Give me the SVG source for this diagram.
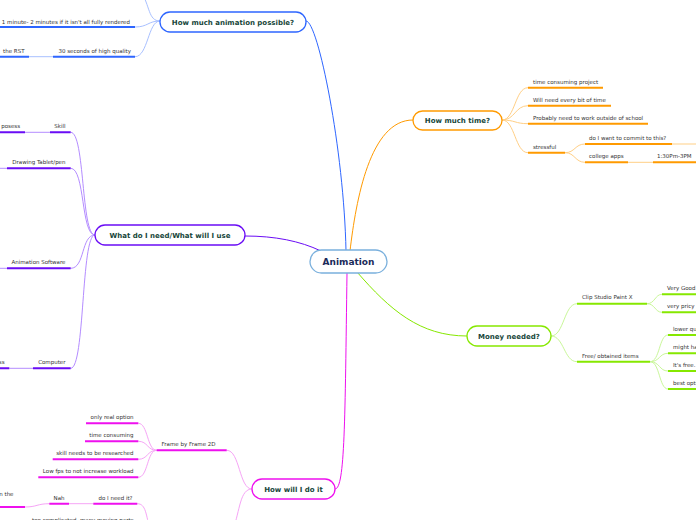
<svg xmlns="http://www.w3.org/2000/svg" width="696" height="520" viewBox="0 0 696 520">
<style>
.t{font-family:"DejaVu Sans",Verdana,sans-serif;font-size:5.5px;fill:#333}
.e{text-anchor:end}
.n{font-family:"DejaVu Sans",Verdana,sans-serif;font-size:7px;font-weight:bold;fill:#17463a;text-anchor:middle}
.c{fill:none;stroke-width:1}
.u{fill:none;stroke-width:2}
.bl{stroke:#2e66ff}.bll{stroke:#a8c0ff}
.pu{stroke:#6a0cf5}.pul{stroke:#b48cff}
.or{stroke:#ff9a00}.orl{stroke:#ffcf85}
.gr{stroke:#86e800}.grl{stroke:#c9f799}
.mg{stroke:#ee10ee}.mgl{stroke:#f6a4f6}
.box{fill:#fff;stroke-width:1.3}
</style>
<g id="connectors">
<path class="c bl" stroke-width="1.2" d="M306,21 C318,21 344,150 346,251"/>
<path class="c or" stroke-width="1.2" d="M350,251 C356,200 370,120 413,120"/>
<path class="c pu" stroke-width="1.2" d="M245,236 C275,236 300,241 321,251"/>
<path class="c gr" stroke-width="1.2" d="M357,272 C390,310 420,336 467,336"/>
<path class="c mg" stroke-width="1.2" d="M347,273 C345,420 345,489 335,489"/>
<!-- blue -->
<path class="c bll" d="M135,27 C148,27 148,21 160,21"/>
<path class="c bll" d="M135,56.7 C148,56.7 148,21 160,21"/>
<path class="c bll" d="M160,21 C148,21 150,5 141,-8"/>
<path class="c bll" d="M29,56.7 L53,56.7"/>
<!-- purple -->
<path class="c pul" d="M70.7,132.3 C85,132.3 81,235 95,235"/>
<path class="c pul" d="M70.7,168.3 C85,168.3 81,235 95,235"/>
<path class="c pul" d="M70.7,268.3 C85,268.3 81,235 95,235"/>
<path class="c pul" d="M70.7,368.3 C85,368.3 81,235 95,235"/>
<path class="c pul" d="M25,132.3 L50,132.3 M0,168.3 L7,168.3 M0,268.3 L7,268.3 M9.3,368.3 L33,368.3"/>
<!-- orange -->
<path class="c orl" d="M502,120 C515,120 515,87.7 528,87.7"/>
<path class="c orl" d="M502,120 C515,120 515,105.7 528,105.7"/>
<path class="c orl" d="M502,120 C515,120 515,123.7 528,123.7"/>
<path class="c orl" d="M502,120 C515,120 515,152.7 528,152.7"/>
<path class="c orl" d="M565,152.7 C575,152.7 575,144 585,144"/>
<path class="c orl" d="M565,152.7 C575,152.7 575,162.3 585,162.3"/>
<path class="c orl" d="M672,144 L696,144 M628,162.3 L653,162.3"/>
<!-- green -->
<path class="c grl" d="M551,336 C564,336 564,303.7 577,303.7"/>
<path class="c grl" d="M551,336 C564,336 564,361.7 577,361.7"/>
<path class="c grl" d="M647,303.7 C655,303.7 655,294.3 662,294.3"/>
<path class="c grl" d="M647,303.7 C655,303.7 655,312.3 662,312.3"/>
<path class="c grl" d="M650,361.7 C660,361.7 659,335 668,335"/>
<path class="c grl" d="M650,361.7 C660,361.7 659,353.3 668,353.3"/>
<path class="c grl" d="M650,361.7 C660,361.7 659,371 668,371"/>
<path class="c grl" d="M650,361.7 C660,361.7 659,389 668,389"/>
<!-- magenta -->
<path class="c mgl" d="M226.7,450.3 C240,450.3 239,489 252,489"/>
<path class="c mgl" d="M252,489 C240,489 240,510 233,530"/>
<path class="c mgl" d="M138.3,423.3 C148,423.3 147,450.3 156.7,450.3"/>
<path class="c mgl" d="M138.3,441.3 C148,441.3 147,450.3 156.7,450.3"/>
<path class="c mgl" d="M138.3,459.3 C148,459.3 147,450.3 156.7,450.3"/>
<path class="c mgl" d="M138.3,477.3 C148,477.3 147,450.3 156.7,450.3"/>
<path class="c mgl" d="M137.3,503.7 C146,503.7 146,515 150,530"/>
<path class="c mgl" d="M69,503.7 L93.3,503.7"/>
<path class="c mgl" d="M25,507 C37,507 37,503.7 49.3,503.7"/>
</g>
<g id="n-animation">
<rect class="box" x="310" y="250" width="77" height="23" rx="11.5" stroke="#7ab0dd" stroke-width="1.5"/>
<text class="n" x="348.5" y="265" font-size="9" style="font-size:9px;fill:#1a2a5a">Animation</text>
</g>
<g id="n-possible">
<rect class="box bl" x="160" y="12" width="146" height="20" rx="10"/>
<text class="n" x="233" y="24.5">How much animation possible?</text>
<path class="u bl" d="M0,27 L135,27 M53,56.7 L135,56.7 M0,56.7 L29,56.7"/>
<text class="t e" x="130" y="23.5">1 minute- 2 minutes if it isn't all fully rendered</text>
<text class="t e" x="131" y="53.3">30 seconds of high quality</text>
<text class="t e" x="24.5" y="53.3">the RST</text>
</g>
<g id="n-need">
<rect class="box pu" x="95" y="225" width="150" height="20" rx="10"/>
<text class="n" x="170" y="238">What do I need/What will I use</text>
<path class="u pu" d="M50,132.3 L70.7,132.3 M0,132.3 L25,132.3 M7,168.3 L70.7,168.3 M7,268.3 L70.7,268.3 M33,368.3 L70.7,368.3 M0,368.3 L9.3,368.3"/>
<text class="t e" x="65.5" y="128">Skill</text>
<text class="t e" x="20" y="128">posess</text>
<text class="t e" x="65.5" y="164">Drawing Tablet/pen</text>
<text class="t e" x="65.5" y="264">Animation Software</text>
<text class="t e" x="65.5" y="364">Computer</text>
<text class="t e" x="4.5" y="364">ss</text>
</g>
<g id="n-time">
<rect class="box or" x="413" y="111" width="89" height="19" rx="9.5"/>
<text class="n" x="457.5" y="123.3">How much time?</text>
<path class="u or" d="M528,87.7 L603,87.7 M528,105.7 L611,105.7 M528,123.7 L648,123.7 M528,152.7 L565,152.7 M585,144 L672,144 M585,162.3 L628,162.3 M653,162.3 L696,162.3"/>
<text class="t" x="533" y="84">time consuming project</text>
<text class="t" x="533" y="102">Will need every bit of time</text>
<text class="t" x="533" y="120">Probably need to work outside of school</text>
<text class="t" x="533" y="149">stressful</text>
<text class="t" x="589" y="140">do I want to commit to this?</text>
<text class="t" x="589" y="158">college apps</text>
<text class="t" x="657" y="158">1:30Pm-3PM</text>
</g>
<g id="n-money">
<rect class="box gr" x="467" y="326" width="84" height="20" rx="10"/>
<text class="n" x="509" y="338.5">Money needed?</text>
<path class="u gr" d="M577,303.7 L647,303.7 M577,361.7 L650,361.7 M662,294.3 L696,294.3 M662,312.3 L696,312.3 M668,335 L696,335 M668,353.3 L696,353.3 M668,371 L696,371 M668,389 L696,389"/>
<text class="t" x="582" y="298.5">Clip Studio Paint X</text>
<text class="t" x="582" y="357.7">Free/ obtained items</text>
<text class="t" x="667" y="289.5">Very Good</text>
<text class="t" x="667" y="308">very pricy</text>
<text class="t" x="673" y="331">lower qu</text>
<text class="t" x="673" y="349">might ha</text>
<text class="t" x="673" y="367">It's free.</text>
<text class="t" x="673" y="385">best opti</text>
</g>
<g id="n-how">
<rect class="box mg" x="252" y="479" width="83" height="20" rx="10"/>
<text class="n" x="293.5" y="491.8">How will I do it</text>
<path class="u mg" d="M156.7,450.3 L226.7,450.3 M86,423.3 L138.3,423.3 M85,441.3 L138.3,441.3 M52.7,459.3 L138.3,459.3 M38.3,477.3 L138.3,477.3 M93.3,503.7 L137.3,503.7 M49.3,503.7 L69,503.7 M0,507 L25,507"/>
<text class="t" x="161.5" y="446">Frame by Frame 2D</text>
<text class="t e" x="133.5" y="419">only real option</text>
<text class="t e" x="133.5" y="437">time consuming</text>
<text class="t e" x="133.5" y="455">skill needs to be researched</text>
<text class="t e" x="133.5" y="473">Low fps to not increase workload</text>
<text class="t e" x="132.5" y="500">do I need it?</text>
<text class="t e" x="64.5" y="500">Nah</text>
<text class="t e" x="13.5" y="496">n the</text>
<text class="t e" x="133.5" y="521.5">too complicated, many moving parts</text>
</g>
</svg>
